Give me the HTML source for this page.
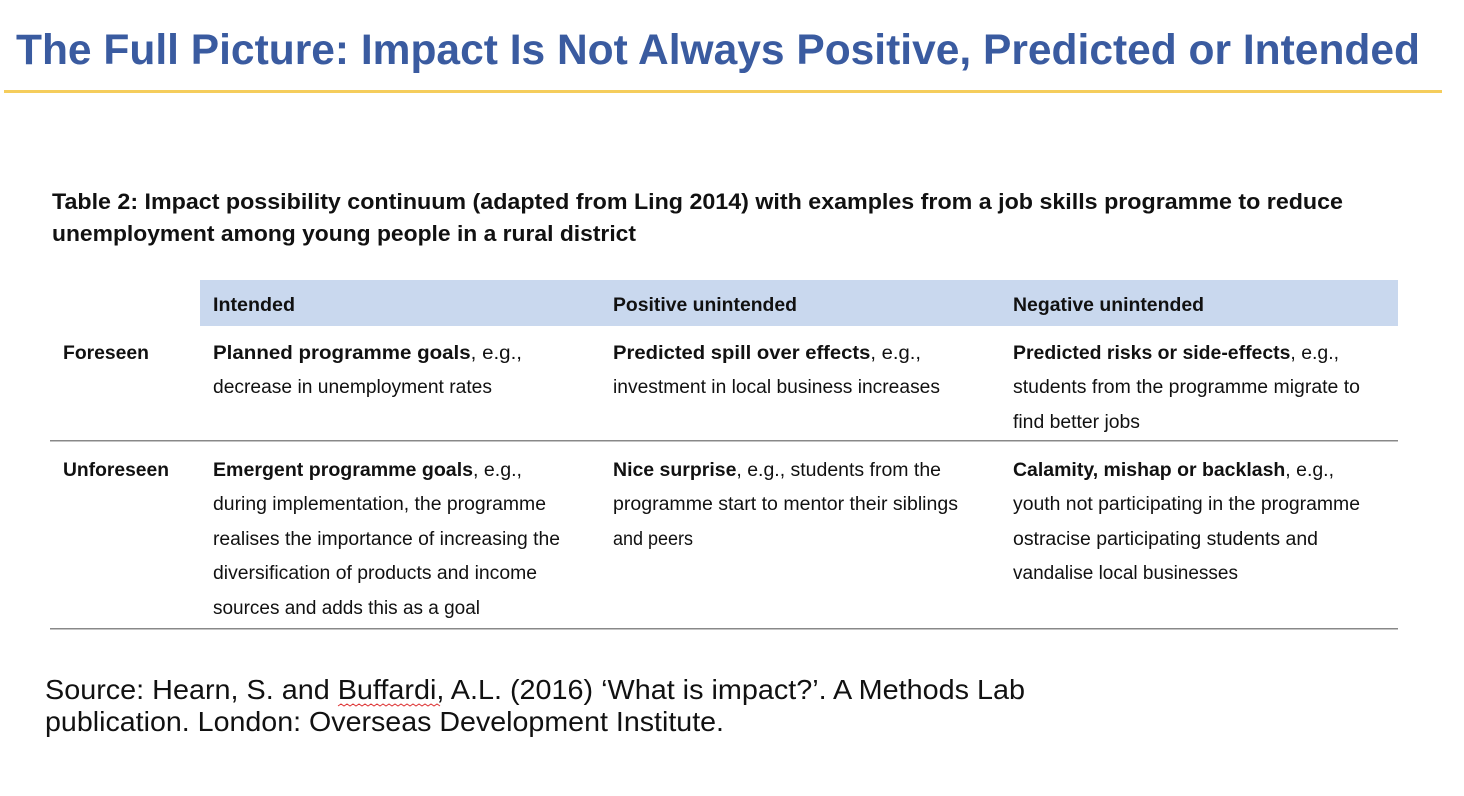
<!DOCTYPE html>
<html><head><meta charset="utf-8"><style>
html,body{margin:0;padding:0;background:#fff;width:1464px;height:796px;overflow:hidden}
svg{display:block}
text{font-family:"Liberation Sans",sans-serif}
.t{font-size:19px;fill:#111}
.b{font-weight:bold}
</style></head><body>
<svg width="1464" height="796" viewBox="0 0 1464 796">
<text x="16" y="64" font-size="43" font-weight="bold" fill="#3a5ba0" textLength="1404" lengthAdjust="spacingAndGlyphs">The Full Picture: Impact Is Not Always Positive, Predicted or Intended</text>
<rect x="4" y="90" width="1438" height="3" fill="#f5cd5c"/>
<g font-size="22" font-weight="bold" fill="#111">
<text x="52" y="209" textLength="1291" lengthAdjust="spacingAndGlyphs">Table 2: Impact possibility continuum (adapted from Ling 2014) with examples from a job skills programme to reduce</text>
<text x="52" y="241" textLength="584" lengthAdjust="spacingAndGlyphs">unemployment among young people in a rural district</text>
</g>
<rect x="200" y="280" width="1198" height="46" fill="#c9d8ee"/>
<g>
<text class="t b" x="213" y="311" textLength="82" lengthAdjust="spacingAndGlyphs">Intended</text>
<text class="t b" x="613" y="311" textLength="184" lengthAdjust="spacingAndGlyphs">Positive unintended</text>
<text class="t b" x="1013" y="311" textLength="191" lengthAdjust="spacingAndGlyphs">Negative unintended</text>
</g>
<g>
<text class="t b" x="63" y="359" textLength="86" lengthAdjust="spacingAndGlyphs">Foreseen</text>
<text class="t" x="213" y="359" textLength="309" lengthAdjust="spacingAndGlyphs"><tspan class="b">Planned programme goals</tspan>, e.g.,</text>
<text class="t" x="213" y="393" textLength="279" lengthAdjust="spacingAndGlyphs">decrease in unemployment rates</text>
<text class="t" x="613" y="359" textLength="308" lengthAdjust="spacingAndGlyphs"><tspan class="b">Predicted spill over effects</tspan>, e.g.,</text>
<text class="t" x="613" y="393" textLength="327" lengthAdjust="spacingAndGlyphs">investment in local business increases</text>
<text class="t" x="1013" y="359" textLength="326" lengthAdjust="spacingAndGlyphs"><tspan class="b">Predicted risks or side-effects</tspan>, e.g.,</text>
<text class="t" x="1013" y="393" textLength="347" lengthAdjust="spacingAndGlyphs">students from the programme migrate to</text>
<text class="t" x="1013" y="428" textLength="127" lengthAdjust="spacingAndGlyphs">find better jobs</text>
</g>
<rect x="50" y="440" width="1348" height="1.5" fill="#888"/>
<g>
<text class="t b" x="63" y="476" textLength="106" lengthAdjust="spacingAndGlyphs">Unforeseen</text>
<text class="t" x="213" y="476" textLength="309" lengthAdjust="spacingAndGlyphs"><tspan class="b">Emergent programme goals</tspan>, e.g.,</text>
<text class="t" x="213" y="510" textLength="333" lengthAdjust="spacingAndGlyphs">during implementation, the programme</text>
<text class="t" x="213" y="545" textLength="347" lengthAdjust="spacingAndGlyphs">realises the importance of increasing the</text>
<text class="t" x="213" y="579" textLength="324" lengthAdjust="spacingAndGlyphs">diversification of products and income</text>
<text class="t" x="213" y="614" textLength="267" lengthAdjust="spacingAndGlyphs">sources and adds this as a goal</text>
<text class="t" x="613" y="476" textLength="328" lengthAdjust="spacingAndGlyphs"><tspan class="b">Nice surprise</tspan>, e.g., students from the</text>
<text class="t" x="613" y="510" textLength="345" lengthAdjust="spacingAndGlyphs">programme start to mentor their siblings</text>
<text class="t" x="613" y="545" textLength="80" lengthAdjust="spacingAndGlyphs">and peers</text>
<text class="t" x="1013" y="476" textLength="321" lengthAdjust="spacingAndGlyphs"><tspan class="b">Calamity, mishap or backlash</tspan>, e.g.,</text>
<text class="t" x="1013" y="510" textLength="347" lengthAdjust="spacingAndGlyphs">youth not participating in the programme</text>
<text class="t" x="1013" y="545" textLength="305" lengthAdjust="spacingAndGlyphs">ostracise participating students and</text>
<text class="t" x="1013" y="579" textLength="225" lengthAdjust="spacingAndGlyphs">vandalise local businesses</text>
</g>
<rect x="50" y="628" width="1348" height="1.5" fill="#888"/>
<g font-size="28" fill="#111">
<text x="45" y="699" textLength="980" lengthAdjust="spacingAndGlyphs">Source: Hearn, S. and Buffardi, A.L. (2016) ‘What is impact?’. A Methods Lab</text>
<text x="45" y="731" textLength="679" lengthAdjust="spacingAndGlyphs">publication. London: Overseas Development Institute.</text>
</g>
<path d="M338 706 l3 -2 l3 2 l3 -2 l3 2 l3 -2 l3 2 l3 -2 l3 2 l3 -2 l3 2 l3 -2 l3 2 l3 -2 l3 2 l3 -2 l3 2 l3 -2 l3 2 l3 -2 l3 2 l3 -2 l3 2 l3 -2 l3 2 l3 -2 l3 2 l3 -2 l3 2 l3 -2 l3 2 l3 -2 l3 2 l3 -2 l3 2" fill="none" stroke="#d33" stroke-width="1"/>
</svg>
</body></html>
